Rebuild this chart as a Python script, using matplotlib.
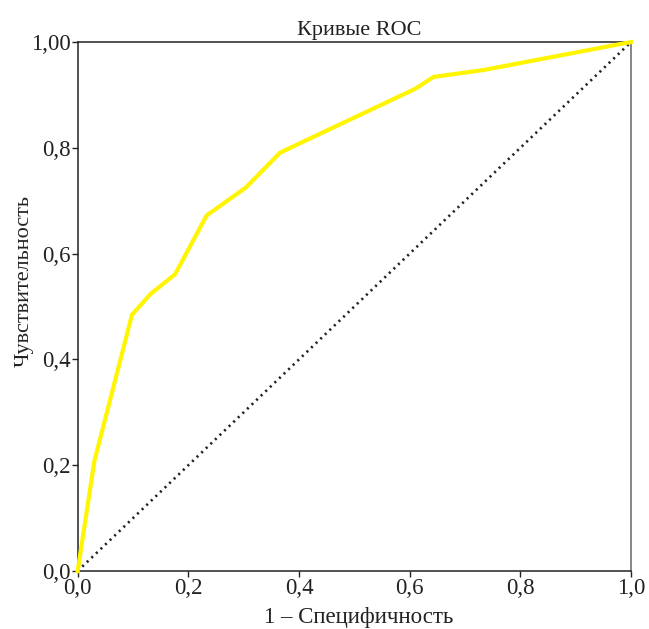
import matplotlib
matplotlib.use("Agg")
import matplotlib.pyplot as plt

plt.rcParams['font.family'] = ['Liberation Serif', 'DejaVu Serif']

fpr = [0.0, 0.030, 0.098, 0.131, 0.176, 0.233, 0.304, 0.366, 0.611, 0.643, 0.733, 1.0]
tpr = [0.0, 0.207, 0.484, 0.523, 0.561, 0.672, 0.725, 0.791, 0.912, 0.934, 0.947, 1.0]
ref = [0.0, 1.0]

xticks = [0.0, 0.2, 0.4, 0.6, 0.8, 1.0]
xticklabels = ["0,0", "0,2", "0,4", "0,6", "0,8", "1,0"]
yticks = [0.0, 0.2, 0.4, 0.6, 0.8, 1.0]
yticklabels = ["0,0", "0,2", "0,4", "0,6", "0,8", "1,00"]

fig = plt.figure(figsize=(6.49, 6.29), dpi=100)
ax = fig.add_axes([0.1197, 0.0922, 0.8526, 0.8410])

ax.plot(ref, ref, color='#222222', linestyle=(0, (0.8, 1.6)), linewidth=1.9, zorder=2)
ax.plot(fpr, tpr, color='#FFF500', linewidth=3.0, solid_joinstyle='round', zorder=3, clip_on=False)

ax.set_xlim(0, 1)
ax.set_ylim(0, 1)
ax.set_xticks(xticks)
ax.set_xticklabels(xticklabels)
ax.set_yticks(yticks)
ax.set_yticklabels(yticklabels)
ax.tick_params(direction='out', length=4, width=1, labelsize=16.5, colors='#222222', pad=1)

for s in ['left', 'bottom', 'top']:
    ax.spines[s].set_color('#222222')
    ax.spines[s].set_linewidth(1.1)
ax.spines['right'].set_color('#666666')
ax.spines['right'].set_linewidth(1.1)

fig.text(0.553, 0.952, "Кривые ROC", fontsize=16, color='#222222', ha='center', va='center')
fig.text(0.553, 0.019, "1 – Специфичность", fontsize=16.5, color='#222222', ha='center', va='center')
fig.text(0.037, 0.553, "Чувствительность", fontsize=16, color='#222222', ha='center', va='center', rotation=90)

fig.savefig("out.png", dpi=100, facecolor='white')
